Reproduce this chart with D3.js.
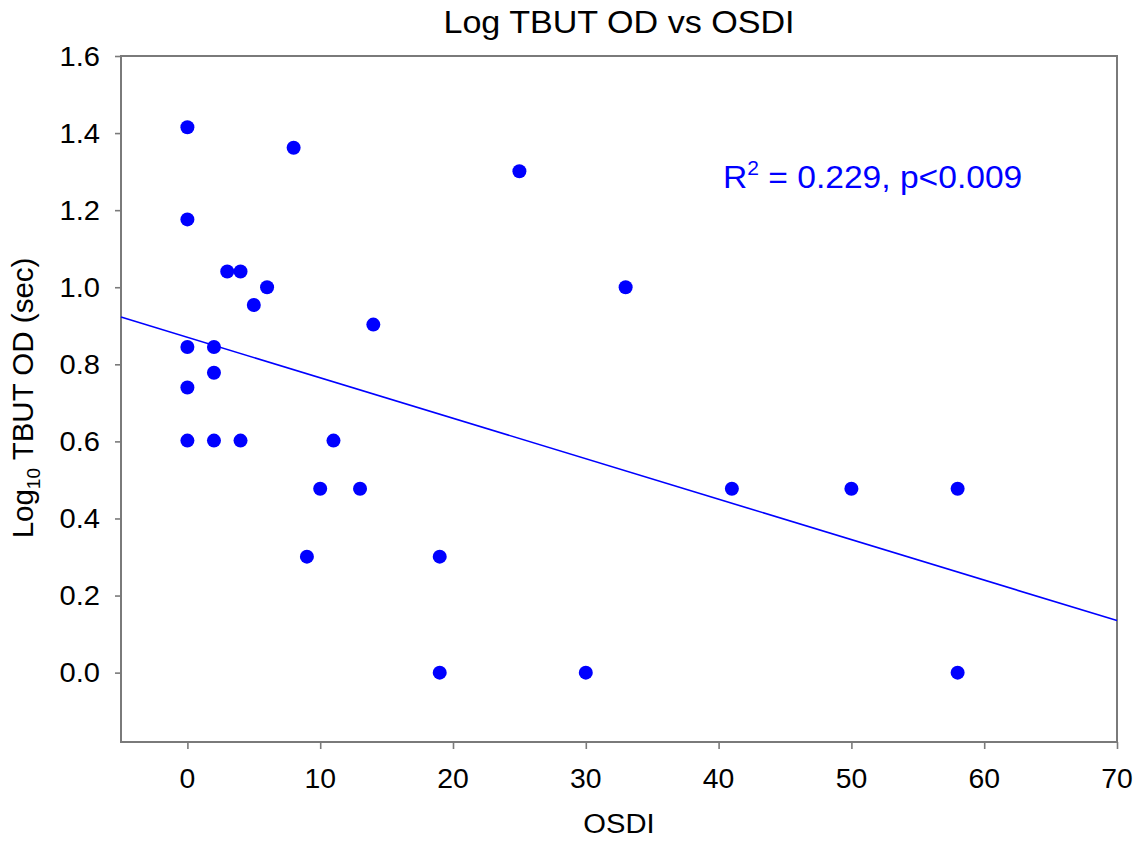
<!DOCTYPE html>
<html>
<head>
<meta charset="utf-8">
<script src="https://cdn.jsdelivr.net/npm/d3@7"></script>
<style>
  html, body { margin: 0; padding: 0; background: #fff; }
  svg { display: block; font-family: "Liberation Sans", Arial, sans-serif; }
</style>
</head>
<body>
<svg id="chart" width="1147" height="844"></svg>
<script>
// OSDI score and log10 tear break-up time (right eye) per subject
const osdi = [0, 0, 0, 0, 0, 2, 2, 2, 3, 4, 4, 5, 6, 8, 9, 10, 11, 13, 14, 19, 19, 25, 30, 33, 41, 50, 58, 58];
const logTbut = [1.415, 1.176, 0.845, 0.740, 0.602, 0.845, 0.778, 0.602, 1.041, 1.041, 0.602, 0.954, 1.000,
                 1.362, 0.301, 0.477, 0.602, 0.477, 0.903, 0.301, 0.000, 1.301, 0.000, 1.000, 0.477, 0.477, 0.477, 0.000];

// Fitted regression line: logTbut = intercept + slope * osdi
const fitIntercept = 0.870;
const fitSlope = -0.0105;

const xTicks = [0, 10, 20, 30, 40, 50, 60, 70];
const yTicks = [0.0, 0.2, 0.4, 0.6, 0.8, 1.0, 1.2, 1.4, 1.6];

const titleText = "Log TBUT OD vs OSDI";
const xLabel = "OSDI";
const statsText = { r2: "0.229", p: "0.009" };

const svg = d3.select("#chart");
const plotLeft = 121, plotRight = 1117, plotTop = 56, plotBottom = 742;
const axisColor = "#7a7a7a";
const markColor = "#0000ff";

const x = d3.scaleLinear().domain([-5, 70]).range([plotLeft, plotRight]);
const y = d3.scaleLinear().domain([-0.18, 1.6]).range([plotBottom, plotTop]);

// text helper with a slight horizontal widening of the glyphs
function label(g, px, py, str, size, anchor, sx, color) {
  return g.append("text")
    .attr("transform", `translate(${px},${py}) scale(${sx},1)`)
    .attr("text-anchor", anchor)
    .attr("font-size", size)
    .attr("fill", color || "#000")
    .text(str);
}

// frame
svg.append("rect")
  .attr("x", plotLeft).attr("y", plotTop)
  .attr("width", plotRight - plotLeft).attr("height", plotBottom - plotTop)
  .attr("fill", "none").attr("stroke", axisColor).attr("stroke-width", 2);

// x axis
const xAxis = svg.append("g")
  .attr("transform", `translate(0,${plotBottom})`)
  .call(d3.axisBottom(x).tickValues(xTicks).tickSize(7).tickFormat(""));
xAxis.select(".domain").remove();
xAxis.selectAll(".tick line").attr("stroke", axisColor).attr("stroke-width", 1.6);
xTicks.forEach(t => label(svg, x(t), 788, d3.format("d")(t), 27, "middle", 1.05));

// y axis
const yAxis = svg.append("g")
  .attr("transform", `translate(${plotLeft},0)`)
  .call(d3.axisLeft(y).tickValues(yTicks).tickSize(6).tickFormat(""));
yAxis.select(".domain").remove();
yAxis.selectAll(".tick line").attr("stroke", axisColor).attr("stroke-width", 1.6);
yTicks.forEach(t => label(svg, 100, y(t) + 9.5, d3.format(".1f")(t), 27.5, "end", 1.06));

// regression line across the full x range
const xd = x.domain();
svg.append("line")
  .attr("x1", x(xd[0])).attr("y1", y(fitIntercept + fitSlope * xd[0]))
  .attr("x2", x(xd[1])).attr("y2", y(fitIntercept + fitSlope * xd[1]))
  .attr("stroke", markColor).attr("stroke-width", 1.6);

// points
svg.append("g").selectAll("circle")
  .data(osdi.map((v, i) => ({ x: v, y: logTbut[i] })))
  .join("circle")
  .attr("cx", d => x(d.x)).attr("cy", d => y(d.y))
  .attr("r", 7).attr("fill", markColor);

// title
label(svg, (plotLeft + plotRight) / 2, 33, titleText, 31, "middle", 1.1);

// x label
label(svg, (plotLeft + plotRight) / 2, 833, xLabel, 27, "middle", 1.08);

// y label (rotated, with subscript)
const yl = svg.append("text")
  .attr("transform", `translate(33,398) rotate(-90)`)
  .attr("text-anchor", "middle")
  .attr("font-size", 29.5)
  .attr("fill", "#000");
yl.append("tspan").text("Log");
yl.append("tspan").attr("font-size", 19).attr("dy", 7).text("10");
yl.append("tspan").attr("dy", -7).text(" TBUT OD (sec)");

// statistics annotation
const st = svg.append("text")
  .attr("transform", `translate(723,188) scale(1.05,1)`)
  .attr("font-size", 32)
  .attr("fill", markColor);
st.append("tspan").text("R");
st.append("tspan").attr("font-size", 20).attr("dy", -13).text("2");
st.append("tspan").attr("dy", 13).text(` = ${statsText.r2}, p<${statsText.p}`);
</script>
</body>
</html>
